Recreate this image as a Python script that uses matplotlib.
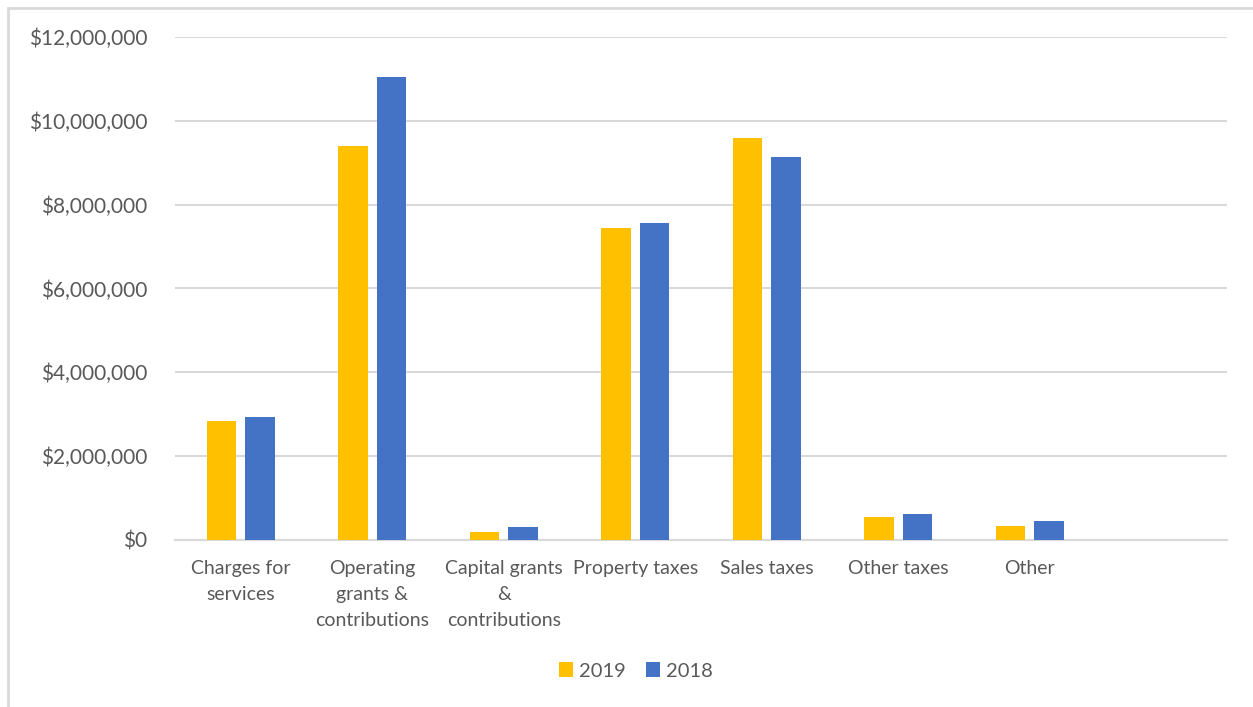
import numpy as np
import matplotlib
matplotlib.use("Agg")
import matplotlib.pyplot as plt
from matplotlib.patches import Rectangle
from matplotlib.ticker import FuncFormatter

categories = ["Charges for\nservices", "Operating\ngrants &\ncontributions",
              "Capital grants\n&\ncontributions", "Property taxes", "Sales taxes",
              "Other taxes", "Other", ""]
vals_2019 = [2830000, 9410000, 170000, 7450000, 9590000, 540000, 330000, 0]
vals_2018 = [2920000, 11060000, 290000, 7570000, 9140000, 600000, 450000, 0]
series = ["2019", "2018"]
colors = ["#FFC000", "#4472C4"]
text_color = "#595959"
grid_color = "#D9D9D9"

plt.rcParams['font.family'] = ['Lato', 'DejaVu Sans']

fig = plt.figure(figsize=(12.53, 7.07), dpi=100)
ax = fig.add_axes([175 / 1253, 167.5 / 707, 1052 / 1253, 502.2 / 707])

x = np.arange(len(categories))
w = 0.224
off = 0.147
ax.bar(x - off, vals_2019, w, color=colors[0], label=series[0], zorder=3)
ax.bar(x + off, vals_2018, w, color=colors[1], label=series[1], zorder=3)

ax.set_xlim(-0.5, len(categories) - 0.5)
ax.set_ylim(0, 12000000)
ax.set_yticks(np.arange(0, 12000001, 2000000))
ax.yaxis.set_major_formatter(FuncFormatter(lambda v, p: "${:,.0f}".format(v)))
ax.yaxis.grid(True, color=grid_color, linewidth=1.5, zorder=0)
ax.set_xticks(x)
ax.set_xticklabels(categories, linespacing=1.62)
ax.tick_params(axis='both', length=0, colors=text_color)
ax.tick_params(axis='x', pad=15, labelsize=14)
ax.tick_params(axis='y', pad=20, labelsize=15)
for s in ["top", "right", "left"]:
    ax.spines[s].set_visible(False)
ax.spines["bottom"].set_color(grid_color)
ax.spines["bottom"].set_linewidth(1.5)

leg = fig.legend(loc="center", bbox_to_anchor=(636 / 1253, 1 - 671 / 707), ncol=2,
                 frameon=False, fontsize=14.5, handlelength=0.7, handleheight=0.7,
                 handletextpad=0.3, columnspacing=1.0)
for t in leg.get_texts():
    t.set_color(text_color)

# outer chart border
fig.patches.append(Rectangle((8 / 1253, -0.01), 1.1, 1 - 8 / 707 + 0.01,
                             transform=fig.transFigure, fill=False,
                             edgecolor=grid_color, linewidth=2))

fig.savefig("out.png", dpi=100, facecolor="white")
